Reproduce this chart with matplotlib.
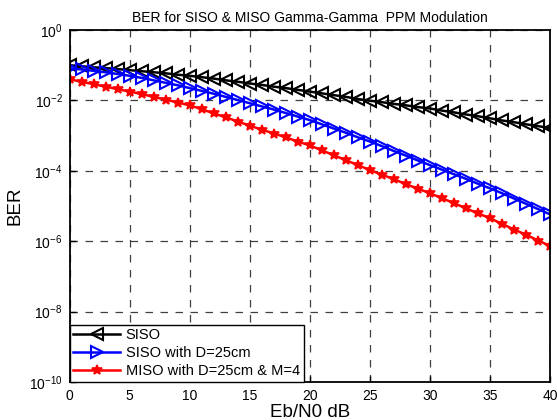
import numpy as np
import matplotlib
matplotlib.use("Agg")
import matplotlib.pyplot as plt

plt.rcParams['font.family'] = ['Liberation Sans', 'DejaVu Sans']
plt.rcParams['mathtext.default'] = 'regular'

ebn0 = np.arange(0, 41)

# log10(BER), one value per dB
siso_log = [-1.00, -1.03, -1.06, -1.08, -1.11, -1.14, -1.17, -1.20, -1.23, -1.27,
            -1.30, -1.34, -1.38, -1.43, -1.47, -1.52, -1.56, -1.61, -1.65, -1.70,
            -1.75, -1.80, -1.85, -1.90, -1.96, -2.01, -2.05, -2.10, -2.14, -2.19,
            -2.23, -2.29, -2.34, -2.40, -2.45, -2.51, -2.57, -2.62, -2.68, -2.73,
            -2.79]
siso_d_log = [-1.09, -1.12, -1.16, -1.20, -1.25, -1.30, -1.36, -1.43, -1.50, -1.57,
              -1.65, -1.73, -1.81, -1.90, -1.99, -2.08, -2.17, -2.26, -2.36, -2.46,
              -2.56, -2.68, -2.80, -2.92, -3.05, -3.17, -3.30, -3.44, -3.57, -3.71,
              -3.84, -3.97, -4.10, -4.23, -4.37, -4.50, -4.64, -4.79, -4.94, -5.09,
              -5.24]
miso_log = [-1.40, -1.47, -1.54, -1.61, -1.68, -1.75, -1.82, -1.90, -1.98, -2.06,
            -2.14, -2.25, -2.37, -2.48, -2.60, -2.72, -2.83, -2.94, -3.05, -3.17,
            -3.28, -3.42, -3.56, -3.70, -3.84, -3.98, -4.11, -4.24, -4.38, -4.51,
            -4.64, -4.78, -4.92, -5.07, -5.21, -5.35, -5.51, -5.67, -5.82, -5.98,
            -6.14]

labels = ['SISO', 'SISO with D=25cm', 'MISO with D=25cm & M=4']

fig = plt.figure(figsize=(5.57, 4.2), dpi=100)
ax = fig.add_axes([0.125, 0.0905, 0.863, 0.838])

ax.semilogy(ebn0, 10 ** np.array(siso_log), color='black', lw=1.8, marker='<',
            ms=8, mfc='none', mew=1.5, label=labels[0])
ax.semilogy(ebn0, 10 ** np.array(siso_d_log), color='blue', lw=1.8, marker='>',
            ms=8, mfc='none', mew=1.5, label=labels[1])
ax.semilogy(ebn0, 10 ** np.array(miso_log), color='red', lw=1.8, marker='*',
            ms=7, mew=1.2, label=labels[2])

ax.set_xlim(0, 40)
ax.set_ylim(1e-10, 1)
ax.set_xticks(range(0, 41, 5))
yt = [10.0 ** k for k in range(0, -11, -2)]
ax.set_yticks(yt)
ax.set_yticklabels(['$10^{%d}$' % k for k in range(0, -11, -2)])
ax.minorticks_off()
ax.tick_params(direction='in', labelsize=10, length=4, width=1, pad=5)
ax.grid(True, color='#404040', linestyle=(0, (6, 6)), linewidth=0.9)
for s in ax.spines.values():
    s.set_linewidth(1.3)

ax.set_title('BER for SISO & MISO Gamma-Gamma  PPM Modulation', fontsize=10, pad=6)
ax.set_xlabel('Eb/N0 dB', fontsize=13.5, labelpad=1)
ax.set_ylabel('BER', fontsize=13.5, labelpad=4)

leg = ax.legend(loc='lower left', fontsize=10.5, handlelength=3.2, borderaxespad=0,
                fancybox=False, edgecolor='black', framealpha=1, borderpad=0.25,
                labelspacing=0.28, handletextpad=0.4)
leg.get_frame().set_linewidth(1.0)

fig.savefig('out.png', dpi=100)
